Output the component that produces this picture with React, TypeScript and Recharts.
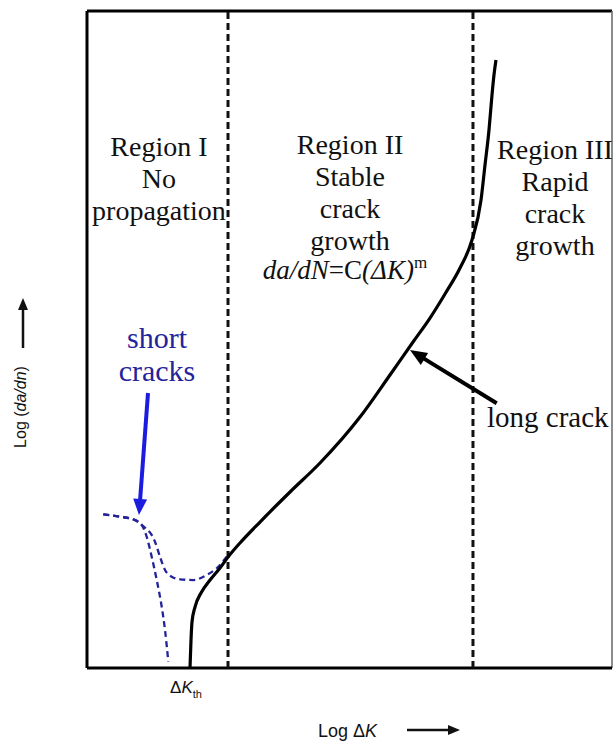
import React from "react";
import { ComposedChart, Line, XAxis, YAxis, ReferenceLine, ReferenceDot } from "recharts";

// log ΔK (x) and log da/dN (y), both in arbitrary 0-100 units
const longCrackLogK = [19.62, 19.81, 20.0, 20.57, 21.71, 23.43, 25.33, 26.86, 29.14, 32.95, 38.67, 44.38, 52.0, 57.71, 62.1, 65.33, 68.19, 71.05, 73.33, 75.05, 75.81, 76.57, 77.14, 77.52, 77.9];
const longCrackLogRate = [0, 4.26, 7.0, 9.28, 11.42, 13.39, 15.22, 16.89, 19.03, 22.22, 26.79, 31.2, 38.2, 44.6, 49.62, 53.27, 56.93, 60.88, 65.14, 71.23, 76.56, 81.89, 87.21, 90.26, 92.54];

// short cracks: arrested branch
const shortArrestLogK = [3.1, 6.29, 8.82, 10.42, 11.37, 12.32, 13.28, 14.23, 14.86, 15.49];
const shortArrestLogRate = [23.39, 23.03, 22.63, 21.77, 19.98, 16.94, 13.39, 9.33, 5.78, 0.96];

// short cracks: branch that merges with the long crack curve
const shortMergeLogK = [3.1, 6.29, 8.82, 10.42, 12.95, 13.9, 14.86, 16.13, 17.71, 20.25, 22.8, 24.7, 26.61];
const shortMergeLogRate = [23.39, 23.03, 22.63, 21.77, 19.22, 16.94, 14.92, 13.9, 13.5, 13.39, 14.16, 15.18, 16.94];

const regionBounds = [26.86, 73.52];
const thresholdLogK = 19.62;

const zip = (xs: number[], ys: number[]) => xs.map((x, i) => ({ x, y: ys[i] }));
const longCrack = zip(longCrackLogK, longCrackLogRate);
const shortArrest = zip(shortArrestLogK, shortArrestLogRate);
const shortMerge = zip(shortMergeLogK, shortMergeLogRate);

const serif = "'Liberation Serif', 'Times New Roman', serif";
const sans = "'Liberation Sans', Arial, sans-serif";
const navy = "#23239a";

const textBlock = (lines: string[], fill = "#111", gap = 32, size = 28) => (p: any) => (
  <text x={p.cx} y={p.cy} textAnchor="middle" fontFamily={serif} fontSize={size} fill={fill}>
    {lines.map((l, i) => (
      <tspan key={i} x={p.cx} dy={i ? gap : 0}>{l}</tspan>
    ))}
  </text>
);

const formula = (p: any) => (
  <text x={p.cx} y={p.cy} textAnchor="middle" fontFamily={serif} fontSize={27} fill="#111">
    <tspan fontStyle="italic">da/dN</tspan>
    <tspan>=C</tspan>
    <tspan fontStyle="italic">(ΔK)</tspan>
    <tspan fontSize={17} dy={-11}>m</tspan>
  </text>
);

const longCrackLabel = (p: any) => (
  <text x={p.cx} y={p.cy} fontFamily={serif} fontSize={29} fill="#111">long crack</text>
);

const thresholdLabel = (p: any) => (
  <text x={p.cx - 4} y={p.cy + 25} textAnchor="middle" fontFamily={sans} fontSize={17} fill="#111">
    Δ<tspan fontStyle="italic">K</tspan>
    <tspan fontSize={11} dy={5}>th</tspan>
  </text>
);

const xTitle = (p: any) => (
  <text x={p.cx} y={p.cy} textAnchor="middle" fontFamily={sans} fontSize={18} fill="#111">
    Log Δ<tspan fontStyle="italic">K</tspan>
  </text>
);

const yTitle = (p: any) => (
  <text x={p.cx} y={p.cy} transform={`rotate(-90, ${p.cx}, ${p.cy})`} textAnchor="middle" dy={6} fontFamily={sans} fontSize={16} fill="#111">
    Log (<tspan fontStyle="italic">da/dn</tspan>)
  </text>
);

const arrow = (color: string, width: number, headLen: number, headHalf: number) => (p: any) => {
  const { x1, y1, x2, y2 } = p;
  const dx = x2 - x1;
  const dy = y2 - y1;
  const len = Math.sqrt(dx * dx + dy * dy);
  const ux = dx / len;
  const uy = dy / len;
  const bx = x2 - ux * headLen;
  const by = y2 - uy * headLen;
  const pts = `${x2},${y2} ${bx - uy * headHalf},${by + ux * headHalf} ${bx + uy * headHalf},${by - ux * headHalf}`;
  return (
    <g>
      <line x1={x1} y1={y1} x2={bx + ux * 2} y2={by + uy * 2} stroke={color} strokeWidth={width} />
      <polygon points={pts} fill={color} />
    </g>
  );
};

export default function App() {
  return (
    <div style={{ position: "absolute", left: 0, top: 0 }}>
      <ComposedChart width={613} height={744} margin={{ top: 11, right: 1, bottom: 76, left: 87 }}>
        <XAxis type="number" dataKey="x" domain={[0, 100]} allowDataOverflow hide />
        <YAxis type="number" dataKey="y" domain={[0, 100]} allowDataOverflow hide />
        <ReferenceLine y={100} stroke="#000" strokeWidth={3} />
        <ReferenceLine x={100} stroke="#666" strokeWidth={1.5} />
        <ReferenceLine x={0} stroke="#000" strokeWidth={3} />
        <ReferenceLine y={0} stroke="#000" strokeWidth={3} />
        {regionBounds.map((b) => (
          <ReferenceLine key={b} x={b} stroke="#111" strokeWidth={3} strokeDasharray="7 4" />
        ))}
        <Line data={shortArrest} dataKey="y" type="monotone" stroke={navy} strokeWidth={2.3} strokeDasharray="6 4" dot={false} isAnimationActive={false} />
        <Line data={shortMerge} dataKey="y" type="monotone" stroke={navy} strokeWidth={2.3} strokeDasharray="6 4" dot={false} isAnimationActive={false} />
        <Line data={longCrack} dataKey="y" type="monotone" stroke="#000" strokeWidth={3.2} dot={false} isAnimationActive={false} />

        <ReferenceDot x={13.71} y={77.93} r={0} ifOverflow="visible" shape={textBlock(["Region I", "No", "propagation"])} />
        <ReferenceDot x={50.1} y={78.23} r={0} ifOverflow="visible" shape={textBlock(["Region II", "Stable", "crack", "growth"])} />
        <ReferenceDot x={49.14} y={59.21} r={0} ifOverflow="visible" shape={formula} />
        <ReferenceDot x={89.14} y={77.47} r={0} ifOverflow="visible" shape={textBlock(["Region III", "Rapid", "crack", "growth"])} />
        <ReferenceDot x={13.33} y={48.71} r={0} ifOverflow="visible" shape={textBlock(["short", "cracks"], navy, 33, 30)} />
        <ReferenceDot x={76.19} y={36.68} r={0} ifOverflow="visible" shape={longCrackLabel} />
        <ReferenceDot x={thresholdLogK} y={0} r={0} ifOverflow="visible" shape={thresholdLabel} />
        <ReferenceDot x={49.62} y={-10.5} r={0} ifOverflow="visible" shape={xTitle} />
        <ReferenceDot x={-12.76} y={39.73} r={0} ifOverflow="visible" shape={yTitle} />

        <ReferenceLine segment={[{ x: 11.62, y: 41.86 }, { x: 9.9, y: 23.29 }]} ifOverflow="visible" shape={arrow("#1c1ce0", 4, 16, 7)} />
        <ReferenceLine segment={[{ x: 78.04, y: 40.29 }, { x: 61.52, y: 48.4 }]} ifOverflow="visible" shape={arrow("#000", 4, 17, 7)} />
        <ReferenceLine segment={[{ x: 60.95, y: -9.44 }, { x: 71.05, y: -9.44 }]} ifOverflow="visible" shape={arrow("#111", 2.5, 12, 5)} />
        <ReferenceLine segment={[{ x: -12.19, y: 48.71 }, { x: -12.19, y: 56.32 }]} ifOverflow="visible" shape={arrow("#111", 2.5, 12, 5)} />
      </ComposedChart>
    </div>
  );
}
